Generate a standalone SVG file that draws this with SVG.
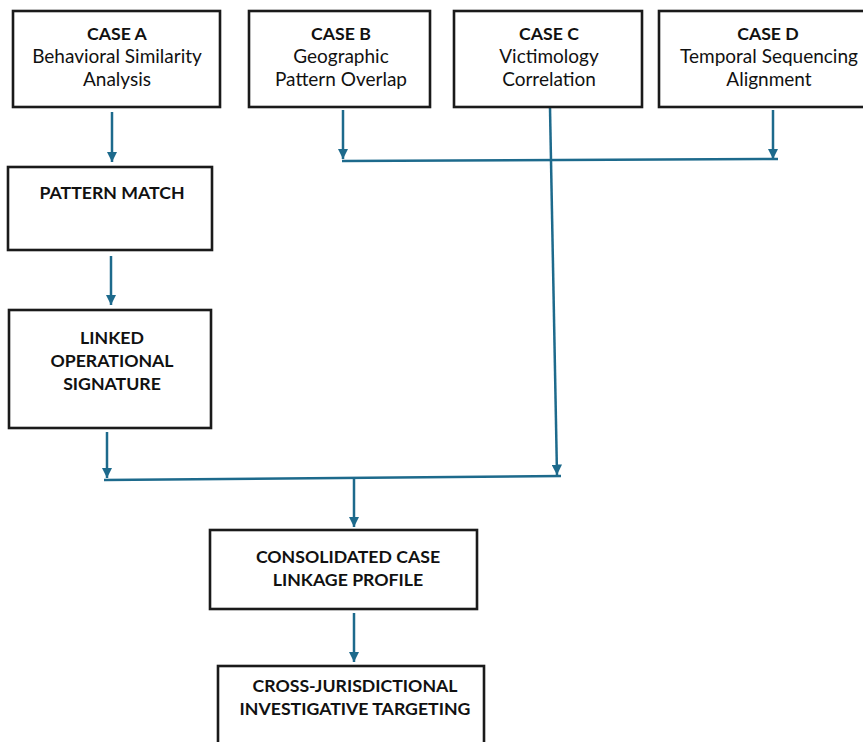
<svg xmlns="http://www.w3.org/2000/svg" width="863" height="742" viewBox="0 0 863 742">
<style>
.box{fill:#fff;stroke:#1a1a1a;stroke-width:2.6}
.t{font-family:Lato,"Open Sans",sans-serif;font-size:19px;fill:#111;text-anchor:middle}
.b{font-weight:bold;font-size:17.7px}
.c{fill:none;stroke:#1d6a8c;stroke-width:2.5}
</style>
<defs>
<marker id="ah" viewBox="0 0 10 10" refX="10" refY="5" markerWidth="4.2" markerHeight="4.2" orient="auto" markerUnits="strokeWidth">
<path d="M0,0 L10,5 L0,10 z" fill="#1d6a8c"/>
</marker>
</defs>
<rect width="863" height="742" fill="#fff"/>
<g id="connectors">
<line class="c" x1="112" y1="112" x2="112" y2="162" marker-end="url(#ah)"/>
<line class="c" x1="111" y1="256" x2="111" y2="305" marker-end="url(#ah)"/>
<line class="c" x1="107" y1="432" x2="107" y2="478" marker-end="url(#ah)"/>
<line class="c" x1="343" y1="110" x2="343" y2="159" marker-end="url(#ah)"/>
<line class="c" x1="773" y1="110" x2="773" y2="159" marker-end="url(#ah)"/>
<line class="c" x1="342" y1="161" x2="778" y2="159"/>
<line class="c" x1="550" y1="108" x2="557" y2="475" marker-end="url(#ah)"/>
<line class="c" x1="104" y1="480" x2="561" y2="476"/>
<line class="c" x1="354" y1="479" x2="354" y2="527" marker-end="url(#ah)"/>
<line class="c" x1="354" y1="613" x2="354" y2="662" marker-end="url(#ah)"/>
</g>
<g id="caseA">
<rect class="box" x="13" y="11" width="207" height="96"/>
<text class="t b" x="117" y="40">CASE A</text>
<text class="t" x="117" y="63">Behavioral Similarity</text>
<text class="t" x="117" y="86">Analysis</text>
</g>
<g id="caseB">
<rect class="box" x="249" y="11" width="181" height="96"/>
<text class="t b" x="341" y="40">CASE B</text>
<text class="t" x="341" y="63">Geographic</text>
<text class="t" x="341" y="86">Pattern Overlap</text>
</g>
<g id="caseC">
<rect class="box" x="454" y="11" width="188" height="96"/>
<text class="t b" x="549" y="40">CASE C</text>
<text class="t" x="549" y="63">Victimology</text>
<text class="t" x="549" y="86">Correlation</text>
</g>
<g id="caseD">
<rect class="box" x="659" y="11" width="212" height="96"/>
<text class="t b" x="768" y="40">CASE D</text>
<text class="t" x="769" y="63">Temporal Sequencing</text>
<text class="t" x="769" y="86">Alignment</text>
</g>
<g id="patternMatch">
<rect class="box" x="8" y="167" width="204" height="83"/>
<text class="t b" x="112" y="199">PATTERN MATCH</text>
</g>
<g id="linked">
<rect class="box" x="9" y="310" width="202" height="118"/>
<text class="t b" x="112" y="344">LINKED</text>
<text class="t b" x="112" y="367">OPERATIONAL</text>
<text class="t b" x="112" y="390">SIGNATURE</text>
</g>
<g id="consolidated">
<rect class="box" x="210" y="530" width="267" height="79"/>
<text class="t b" x="348" y="563">CONSOLIDATED CASE</text>
<text class="t b" x="348" y="586">LINKAGE PROFILE</text>
</g>
<g id="cross">
<rect class="box" x="218" y="666" width="266" height="90"/>
<text class="t b" x="355" y="692">CROSS-JURISDICTIONAL</text>
<text class="t b" x="355" y="715">INVESTIGATIVE TARGETING</text>
</g>
</svg>
